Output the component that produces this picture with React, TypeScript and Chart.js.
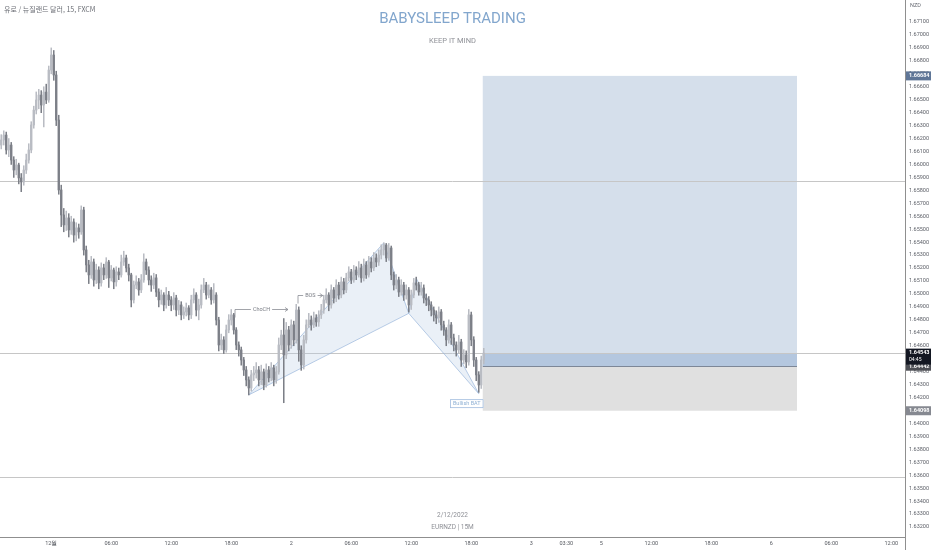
import { useEffect, useRef } from "react";
import { Chart, registerables } from "chart.js";

Chart.register(...registerables);

// ---- Candle data (EURNZD 15M), bar index 0 = 30 Nov 19:00 ----
const opens = [
  1.66150, 1.66189, 1.66227, 1.66112, 1.66150, 1.66034, 1.65957, 1.65996, 1.65896, 1.65865,
  1.65957, 1.66034, 1.66112, 1.66305, 1.66420, 1.66498, 1.66536, 1.66459, 1.66559, 1.66498,
  1.66729, 1.66845, 1.66691, 1.66343, 1.65803, 1.65610, 1.65533, 1.65587, 1.65494, 1.65556,
  1.65455, 1.65510, 1.65479, 1.65648, 1.65340, 1.65224, 1.65147, 1.65247, 1.65108, 1.65185,
  1.65085, 1.65201, 1.65147, 1.65247, 1.65124, 1.65185, 1.65093, 1.65170, 1.65147, 1.65247,
  1.65278, 1.65201, 1.65147, 1.64954, 1.65069, 1.65093, 1.65031, 1.65108, 1.65247, 1.65185,
  1.65108, 1.65069, 1.65124, 1.65015, 1.64954, 1.64992, 1.64915, 1.64992, 1.64954, 1.64915,
  1.64969, 1.64876, 1.64915, 1.64838, 1.64861, 1.64892, 1.64838, 1.64954, 1.64992, 1.64876,
  1.64915, 1.65031, 1.65069, 1.64992, 1.65031, 1.64954, 1.64992, 1.64799, 1.64606, 1.64645,
  1.64568, 1.64722, 1.64799, 1.64838, 1.64722, 1.64606, 1.64568, 1.64490, 1.64413, 1.64336,
  1.64274, 1.64375, 1.64390, 1.64413, 1.64336, 1.64398, 1.64297, 1.64413, 1.64352, 1.64429,
  1.64336, 1.64398, 1.64606, 1.64683, 1.64529, 1.64722, 1.64606, 1.64761, 1.64645, 1.64876,
  1.64568, 1.64452, 1.64645, 1.64761, 1.64799, 1.64761, 1.64815, 1.64784, 1.64838, 1.64876,
  1.64954, 1.64992, 1.64915, 1.65031, 1.64969, 1.65069, 1.64992, 1.65093, 1.65031, 1.65124,
  1.65170, 1.65108, 1.65185, 1.65147, 1.65201, 1.65124, 1.65224, 1.65147, 1.65247, 1.65201,
  1.65278, 1.65247, 1.65301, 1.65340, 1.65378, 1.65278, 1.65355, 1.65147, 1.65069, 1.65108,
  1.65015, 1.65069, 1.64992, 1.65031, 1.64915, 1.64992, 1.65085, 1.65069, 1.65015, 1.65046,
  1.64969, 1.64954, 1.64915, 1.64876, 1.64838, 1.64815, 1.64861, 1.64761, 1.64722, 1.64645,
  1.64761, 1.64660, 1.64606, 1.64568, 1.64629, 1.64490, 1.64529, 1.64475, 1.64838, 1.64645,
  1.64490, 1.64375, 1.64297, 1.64490,
];

const highs = [
  1.66230, 1.66260, 1.66250, 1.66200, 1.66170, 1.66060, 1.66040, 1.66010, 1.65930, 1.65990,
  1.66080, 1.66160, 1.66330, 1.66450, 1.66560, 1.66580, 1.66570, 1.66600, 1.66620, 1.66760,
  1.66900, 1.66880, 1.66720, 1.66380, 1.65840, 1.65660, 1.65640, 1.65620, 1.65600, 1.65580,
  1.65550, 1.65540, 1.65680, 1.65670, 1.65370, 1.65260, 1.65290, 1.65270, 1.65230, 1.65210,
  1.65240, 1.65230, 1.65280, 1.65260, 1.65220, 1.65200, 1.65210, 1.65200, 1.65300, 1.65330,
  1.65300, 1.65230, 1.65160, 1.65100, 1.65140, 1.65120, 1.65150, 1.65310, 1.65270, 1.65210,
  1.65140, 1.65160, 1.65150, 1.65040, 1.65030, 1.65010, 1.65050, 1.65020, 1.64980, 1.65010,
  1.64990, 1.64950, 1.64940, 1.64900, 1.64930, 1.64910, 1.64990, 1.65040, 1.65010, 1.64960,
  1.65070, 1.65120, 1.65090, 1.65070, 1.65050, 1.65080, 1.65010, 1.64820, 1.64690, 1.64670,
  1.64760, 1.64840, 1.64880, 1.64850, 1.64740, 1.64630, 1.64590, 1.64510, 1.64440, 1.64360,
  1.64410, 1.64440, 1.64470, 1.64440, 1.64450, 1.64420, 1.64460, 1.64440, 1.64470, 1.64450,
  1.64440, 1.64660, 1.64720, 1.64810, 1.64780, 1.64750, 1.64800, 1.64790, 1.64920, 1.64900,
  1.64600, 1.64680, 1.64800, 1.64850, 1.64830, 1.64860, 1.64840, 1.64870, 1.64920, 1.64990,
  1.65040, 1.65010, 1.65070, 1.65050, 1.65110, 1.65090, 1.65130, 1.65120, 1.65160, 1.65210,
  1.65190, 1.65220, 1.65210, 1.65250, 1.65230, 1.65270, 1.65250, 1.65290, 1.65280, 1.65320,
  1.65310, 1.65340, 1.65380, 1.65395, 1.65390, 1.65390, 1.65370, 1.65170, 1.65150, 1.65130,
  1.65110, 1.65090, 1.65070, 1.65050, 1.65030, 1.65120, 1.65130, 1.65090, 1.65090, 1.65070,
  1.65000, 1.64980, 1.64940, 1.64900, 1.64870, 1.64900, 1.64880, 1.64790, 1.64740, 1.64800,
  1.64780, 1.64690, 1.64630, 1.64680, 1.64650, 1.64570, 1.64560, 1.64880, 1.64860, 1.64670,
  1.64510, 1.64400, 1.64520, 1.64580,
];

const lows = [
  1.66120, 1.66150, 1.66080, 1.66060, 1.66000, 1.65900, 1.65920, 1.65850, 1.65790, 1.65840,
  1.65930, 1.66010, 1.66090, 1.66280, 1.66390, 1.66430, 1.66400, 1.66290, 1.66470, 1.66480,
  1.66700, 1.66650, 1.66300, 1.65770, 1.65520, 1.65480, 1.65490, 1.65440, 1.65460, 1.65400,
  1.65410, 1.65430, 1.65460, 1.65300, 1.65170, 1.65080, 1.65120, 1.65060, 1.65080, 1.65040,
  1.65060, 1.65110, 1.65120, 1.65050, 1.65100, 1.65040, 1.65060, 1.65110, 1.65130, 1.65220,
  1.65170, 1.65100, 1.64900, 1.64930, 1.65040, 1.64990, 1.65010, 1.65090, 1.65150, 1.65070,
  1.65020, 1.65040, 1.64980, 1.64900, 1.64920, 1.64870, 1.64890, 1.64910, 1.64870, 1.64880,
  1.64830, 1.64840, 1.64800, 1.64810, 1.64830, 1.64800, 1.64810, 1.64930, 1.64830, 1.64800,
  1.64890, 1.65010, 1.64960, 1.64970, 1.64920, 1.64930, 1.64760, 1.64560, 1.64570, 1.64540,
  1.64550, 1.64700, 1.64760, 1.64690, 1.64570, 1.64520, 1.64450, 1.64370, 1.64290, 1.64220,
  1.64250, 1.64330, 1.64350, 1.64290, 1.64300, 1.64260, 1.64280, 1.64320, 1.64330, 1.64290,
  1.64310, 1.64380, 1.64570, 1.64160, 1.64500, 1.64560, 1.64580, 1.64600, 1.64620, 1.64480,
  1.64410, 1.64420, 1.64620, 1.64740, 1.64720, 1.64740, 1.64750, 1.64750, 1.64810, 1.64850,
  1.64930, 1.64870, 1.64890, 1.64930, 1.64940, 1.64960, 1.64970, 1.65000, 1.65010, 1.65100,
  1.65080, 1.65090, 1.65110, 1.65130, 1.65090, 1.65100, 1.65120, 1.65130, 1.65170, 1.65180,
  1.65210, 1.65220, 1.65270, 1.65300, 1.65250, 1.65260, 1.65110, 1.65030, 1.65040, 1.64980,
  1.64990, 1.64950, 1.64960, 1.64860, 1.64880, 1.64970, 1.65030, 1.64990, 1.64990, 1.64930,
  1.64910, 1.64870, 1.64830, 1.64790, 1.64770, 1.64780, 1.64720, 1.64680, 1.64600, 1.64620,
  1.64610, 1.64560, 1.64520, 1.64540, 1.64440, 1.64460, 1.64430, 1.64450, 1.64600, 1.64440,
  1.64330, 1.64240, 1.64270, 1.64460,
];

const closes = [
  1.66189, 1.66227, 1.66112, 1.66150, 1.66034, 1.65957, 1.65996, 1.65896, 1.65865, 1.65957,
  1.66034, 1.66112, 1.66305, 1.66420, 1.66498, 1.66536, 1.66459, 1.66559, 1.66498, 1.66729,
  1.66845, 1.66691, 1.66343, 1.65803, 1.65610, 1.65533, 1.65587, 1.65494, 1.65556, 1.65455,
  1.65510, 1.65479, 1.65648, 1.65340, 1.65224, 1.65147, 1.65247, 1.65108, 1.65185, 1.65085,
  1.65201, 1.65147, 1.65247, 1.65124, 1.65185, 1.65093, 1.65170, 1.65147, 1.65247, 1.65278,
  1.65201, 1.65147, 1.64954, 1.65069, 1.65093, 1.65031, 1.65108, 1.65247, 1.65185, 1.65108,
  1.65069, 1.65124, 1.65015, 1.64954, 1.64992, 1.64915, 1.64992, 1.64954, 1.64915, 1.64969,
  1.64876, 1.64915, 1.64838, 1.64861, 1.64892, 1.64838, 1.64954, 1.64992, 1.64876, 1.64915,
  1.65031, 1.65069, 1.64992, 1.65031, 1.64954, 1.64992, 1.64799, 1.64606, 1.64645, 1.64568,
  1.64722, 1.64799, 1.64838, 1.64722, 1.64606, 1.64568, 1.64490, 1.64413, 1.64336, 1.64274,
  1.64375, 1.64390, 1.64413, 1.64336, 1.64398, 1.64297, 1.64413, 1.64352, 1.64429, 1.64336,
  1.64398, 1.64606, 1.64683, 1.64529, 1.64722, 1.64606, 1.64761, 1.64645, 1.64876, 1.64568,
  1.64452, 1.64645, 1.64761, 1.64799, 1.64761, 1.64815, 1.64784, 1.64838, 1.64876, 1.64954,
  1.64992, 1.64915, 1.65031, 1.64969, 1.65069, 1.64992, 1.65093, 1.65031, 1.65124, 1.65170,
  1.65108, 1.65185, 1.65147, 1.65201, 1.65124, 1.65224, 1.65147, 1.65247, 1.65201, 1.65278,
  1.65247, 1.65301, 1.65340, 1.65378, 1.65278, 1.65355, 1.65147, 1.65069, 1.65108, 1.65015,
  1.65069, 1.64992, 1.65031, 1.64915, 1.64992, 1.65085, 1.65069, 1.65015, 1.65046, 1.64969,
  1.64954, 1.64915, 1.64876, 1.64838, 1.64815, 1.64861, 1.64761, 1.64722, 1.64645, 1.64761,
  1.64660, 1.64606, 1.64568, 1.64629, 1.64490, 1.64529, 1.64475, 1.64838, 1.64645, 1.64490,
  1.64375, 1.64297, 1.64490, 1.64543,
];

// ---- Axis ticks ----
const xTickIndex = [20, 44, 68, 92, 116, 140, 164, 188, 212, 226, 240, 260, 284, 308, 332, 356];
const xTickLabels = ["12월", "06:00", "12:00", "18:00", "2", "06:00", "12:00", "18:00", "3", "03:30", "5", "12:00", "18:00", "6", "06:00", "12:00"];
const yTicks = [
  1.632, 1.633, 1.634, 1.635, 1.636, 1.637, 1.638, 1.639, 1.640, 1.641,
  1.642, 1.643, 1.644, 1.645, 1.646, 1.647, 1.648, 1.649, 1.650, 1.651,
  1.652, 1.653, 1.654, 1.655, 1.656, 1.657, 1.658, 1.659, 1.660, 1.661,
  1.662, 1.663, 1.664, 1.665, 1.666, 1.667, 1.668, 1.669, 1.670, 1.671,
];
const xRange = [-0.5, 361.5];
const yRange = [1.63123, 1.6727];

// ---- Drawings ----
const hLevels = [1.65872, 1.64543, 1.6359];
const positionSpan = [192.6, 318.3];
const targetPrice = 1.66684;
const entryPrice = 1.64442;
const stopPrice = 1.64098;
const lastPrice = 1.64543;
const countdown = "04:45";

const patternNames = ["X", "A", "B", "C", "D"];
const patternIndex = [99, 153, 163, 166, 191];
const patternPrice = [1.6422, 1.65395, 1.6485, 1.6512, 1.6423];
const patternLabel = "Bullish BAT";

const structureLabels = ["ChoCH", "BOS"];
const structureLevel = [1.64884, 1.64992];
const structureFrom = [93.5, 118.7];
const structureTo = [114.7, 128.6];

const BULL = "#b9bcc3";
const BEAR = "#7c7f87";

const overlayPlugin = {
  id: "tvOverlay",
  beforeDatasetsDraw(chart: any) {
    const { ctx, chartArea, scales } = chart;
    const x = scales.x;
    const y = scales.y;
    ctx.save();
    ctx.beginPath();
    ctx.rect(chartArea.left, chartArea.top, chartArea.width, chartArea.height);
    ctx.clip();

    // long position tool
    const x1 = x.getPixelForValue(positionSpan[0]);
    const x2 = x.getPixelForValue(positionSpan[1]);
    const yT = y.getPixelForValue(targetPrice);
    const yE = y.getPixelForValue(entryPrice);
    const yS = y.getPixelForValue(stopPrice);
    const yC = y.getPixelForValue(lastPrice);
    ctx.fillStyle = "#d5dfeb";
    ctx.fillRect(x1, yT, x2 - x1, yE - yT);
    ctx.fillStyle = "#b4c7df";
    ctx.fillRect(x1, yC, x2 - x1, yE - yC);
    ctx.fillStyle = "#e0e0e0";
    ctx.fillRect(x1, yE, x2 - x1, yS - yE);
    ctx.strokeStyle = "#7d8797";
    ctx.lineWidth = 1;
    ctx.beginPath();
    ctx.moveTo(x1, Math.round(yE) + 0.5);
    ctx.lineTo(x2, Math.round(yE) + 0.5);
    ctx.stroke();

    // horizontal lines
    ctx.strokeStyle = "#c6c6c6";
    hLevels.forEach((lv) => {
      const py = Math.round(y.getPixelForValue(lv)) + 0.5;
      ctx.beginPath();
      ctx.moveTo(chartArea.left, py);
      ctx.lineTo(chartArea.right, py);
      ctx.stroke();
    });

    // harmonic pattern
    const P = patternIndex.map((ix, k) => [x.getPixelForValue(ix), y.getPixelForValue(patternPrice[k])]);
    const tri = (a: number[], b: number[], c: number[]) => {
      ctx.beginPath();
      ctx.moveTo(a[0], a[1]);
      ctx.lineTo(b[0], b[1]);
      ctx.lineTo(c[0], c[1]);
      ctx.closePath();
      ctx.fillStyle = "rgba(178,200,228,0.28)";
      ctx.fill();
      ctx.strokeStyle = "rgba(150,180,218,0.85)";
      ctx.lineWidth = 0.8;
      ctx.stroke();
    };
    tri(P[0], P[1], P[2]);
    tri(P[2], P[3], P[4]);
    ctx.restore();
  },
  afterDraw(chart: any) {
    const { ctx, chartArea, scales } = chart;
    const x = scales.x;
    const y = scales.y;
    ctx.save();
    ctx.font = "5.5px Roboto";
    ctx.textBaseline = "middle";

    // structure marks
    structureLabels.forEach((lab, k) => {
      const xa = x.getPixelForValue(structureFrom[k]);
      const xb = x.getPixelForValue(structureTo[k]);
      const py = Math.round(y.getPixelForValue(structureLevel[k])) + 0.5;
      const tw = ctx.measureText(lab).width;
      const mid = (xa + xb) / 2;
      ctx.strokeStyle = "#8a8d94";
      ctx.lineWidth = 0.8;
      ctx.beginPath();
      ctx.moveTo(xa, py + 8);
      ctx.lineTo(xa, py);
      ctx.lineTo(mid - tw / 2 - 2, py);
      ctx.moveTo(mid + tw / 2 + 2, py);
      ctx.lineTo(xb, py);
      ctx.moveTo(xb - 3, py - 2);
      ctx.lineTo(xb, py);
      ctx.lineTo(xb - 3, py + 2);
      ctx.stroke();
      ctx.fillStyle = "#7a7d85";
      ctx.textAlign = "center";
      ctx.fillText(lab, mid, py);
    });

    // pattern label
    const dX = x.getPixelForValue(patternIndex[4]);
    const dY = y.getPixelForValue(patternPrice[4]);
    ctx.font = "5.5px Roboto";
    const lw = ctx.measureText(patternLabel).width + 6;
    const bx = dX - 12 - lw / 2;
    const by = dY + 5.5;
    ctx.fillStyle = "#ffffff";
    ctx.fillRect(bx, by, lw, 9);
    ctx.strokeStyle = "rgba(150,180,218,0.9)";
    ctx.lineWidth = 0.8;
    ctx.strokeRect(bx + 0.5, by + 0.5, lw - 1, 8);
    ctx.fillStyle = "#8fb0d4";
    ctx.textAlign = "center";
    ctx.fillText(patternLabel, bx + lw / 2, by + 4.8);

    // axis extra line below plot
    ctx.strokeStyle = "#8f8f8f";
    ctx.lineWidth = 1;
    ctx.beginPath();
    ctx.moveTo(chartArea.right + 0.5, chartArea.bottom);
    ctx.lineTo(chartArea.right + 0.5, chart.height);
    ctx.stroke();

    // currency label
    ctx.fillStyle = "#6a6d75";
    ctx.textAlign = "left";
    ctx.font = "5.5px Roboto";
    ctx.fillText("NZD", chartArea.right + 5, 6);

    // price boxes on axis
    const box = (price: number, bg: string, h: number, extra?: string) => {
      const py = y.getPixelForValue(price);
      const left = chartArea.right + 1;
      const w = chart.width - left - 1;
      ctx.fillStyle = bg;
      ctx.fillRect(left, py - 4.5, w, h);
      ctx.fillStyle = "#ffffff";
      ctx.font = "bold 5.5px Roboto";
      ctx.textAlign = "left";
      ctx.fillText(price.toFixed(5), left + 3, py);
      if (extra) {
        ctx.font = "5px Roboto";
        ctx.fillText(extra, left + 3, py + 7);
      }
    };
    box(targetPrice, "#5f7697", 9);
    box(entryPrice, "#4d4f55", 9);
    box(lastPrice, "#131722", 16, countdown);
    box(stopPrice, "#868991", 9);
    ctx.restore();
  },
};

export default function App() {
  const ref = useRef<HTMLCanvasElement | null>(null);

  useEffect(() => {
    if (!ref.current) return;
    const colors = closes.map((c, i) => (c >= opens[i] ? BULL : BEAR));
    const chart = new Chart(ref.current, {
      type: "bar",
      data: {
        datasets: [
          {
            label: "wick",
            data: closes.map((_, i) => ({ x: i, y: [lows[i], highs[i]] })) as any,
            backgroundColor: colors,
            barThickness: 0.9,
            grouped: false,
            order: 2,
          } as any,
          {
            label: "body",
            data: closes.map((c, i) => ({ x: i, y: [opens[i], c] })) as any,
            backgroundColor: colors,
            barThickness: 1.7,
            minBarLength: 1,
            grouped: false,
            order: 1,
          } as any,
        ],
      },
      options: {
        animation: false,
        responsive: true,
        maintainAspectRatio: false,
        events: [],
        layout: { padding: 0 },
        plugins: {
          legend: { display: false },
          tooltip: { enabled: false },
          title: { display: false },
        },
        scales: {
          x: {
            type: "linear",
            min: xRange[0],
            max: xRange[1],
            offset: false,
            grid: { display: false, drawTicks: false },
            border: { display: true, color: "#8f8f8f", width: 1 },
            afterBuildTicks: (scale: any) => {
              scale.ticks = xTickIndex.map((v) => ({ value: v }));
            },
            afterFit: (scale: any) => {
              scale.height = 13;
              scale.paddingLeft = 0;
              scale.paddingRight = 0;
            },
            ticks: {
              autoSkip: false,
              maxRotation: 0,
              padding: 3,
              color: "#55585f",
              font: { size: 5.5, family: "Roboto" },
              callback: (_v: any, i: number) => xTickLabels[i],
            },
          },
          y: {
            type: "linear",
            position: "right",
            min: yRange[0],
            max: yRange[1],
            grid: { display: false, drawTicks: false },
            border: { display: true, color: "#8f8f8f", width: 1 },
            afterBuildTicks: (scale: any) => {
              scale.ticks = yTicks.map((v) => ({ value: v }));
            },
            afterFit: (scale: any) => {
              scale.width = 27;
              scale.paddingTop = 0;
              scale.paddingBottom = 0;
            },
            ticks: {
              autoSkip: false,
              padding: 4,
              color: "#5d6068",
              font: { size: 5.5, family: "Roboto" },
              callback: (v: any) => Number(v).toFixed(5),
            },
          },
        },
      } as any,
      plugins: [overlayPlugin],
    });
    return () => chart.destroy();
  }, []);

  const txt = (extra: any) => ({
    position: "absolute" as const,
    pointerEvents: "none" as const,
    whiteSpace: "nowrap" as const,
    fontFamily: "Roboto, 'Noto Sans', sans-serif",
    ...extra,
  });

  return (
    <div style={{ position: "fixed", left: 0, top: 0, width: 932, height: 550, background: "#ffffff", overflow: "hidden" }}>
      <canvas ref={ref} />
      <div style={txt({ left: 4, top: 5, fontSize: 7, color: "#6b6e75", fontFamily: "'Noto Sans CJK KR', sans-serif", lineHeight: "8px" })}>
        유로 / 뉴질랜드 달러, 15, FXCM
      </div>
      <div style={txt({ left: 0, width: 905, top: 10, textAlign: "center", fontSize: 15, color: "#82a6cd", lineHeight: "16px" })}>
        BABYSLEEP TRADING
      </div>
      <div style={txt({ left: 0, width: 905, top: 36, textAlign: "center", fontSize: 7.5, color: "#8e9096", lineHeight: "9px" })}>
        KEEP IT MIND
      </div>
      <div style={txt({ left: 0, width: 905, top: 511, textAlign: "center", fontSize: 6.5, color: "#8e9096", lineHeight: "8px" })}>
        2/12/2022
      </div>
      <div style={txt({ left: 0, width: 905, top: 523, textAlign: "center", fontSize: 6.5, color: "#8e9096", lineHeight: "8px" })}>
        EURNZD | 15M
      </div>
    </div>
  );
}
